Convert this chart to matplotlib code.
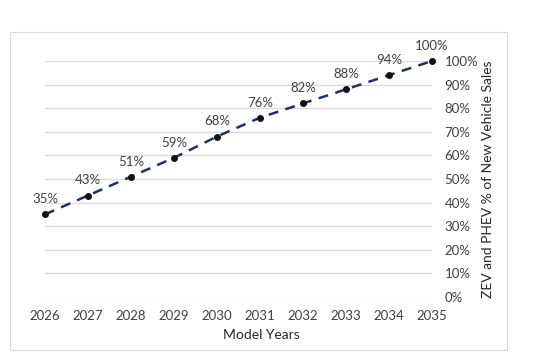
import matplotlib
matplotlib.use("Agg")
import matplotlib.pyplot as plt
from matplotlib.patches import Rectangle
from matplotlib.ticker import PercentFormatter

years = [2026, 2027, 2028, 2029, 2030, 2031, 2032, 2033, 2034, 2035]
shares = [35, 43, 51, 59, 68, 76, 82, 88, 94, 100]
yticks = [0, 10, 20, 30, 40, 50, 60, 70, 80, 90, 100]

plt.rcParams['font.family'] = ['Lato', 'DejaVu Sans']

fig = plt.figure(figsize=(5.46, 3.6), dpi=100)
fig.patch.set_facecolor('white')
fig.patches.append(Rectangle((10/546, 1 - 350/360), (507-10)/546, (350-32)/360,
                             transform=fig.transFigure, fill=False,
                             edgecolor='#d9d9d9', linewidth=0.8))

ax = fig.add_axes([45/546, 1 - 297/360, (432-45)/546, (297-61)/360])
ax.set_xlim(2026, 2035)
ax.set_ylim(0, 100)
ax.plot(years, shares, linestyle=(0, (4, 3)), color='#17336b', linewidth=1.8,
        marker='o', markersize=4, markerfacecolor='#111111',
        markeredgecolor='#111111', clip_on=False, zorder=3)
for x, v in zip(years, shares):
    ax.annotate(f"{v}%", (x, v), xytext=(0, 6.5), textcoords='offset points',
                ha='center', va='bottom', fontsize=9.5, color='#404040')

ax.yaxis.tick_right()
ax.set_yticks(yticks)
ax.yaxis.set_major_formatter(PercentFormatter(decimals=0))
ax.set_xticks(years)
ax.tick_params(axis='both', length=0, labelsize=9.5, labelcolor='#404040')
ax.tick_params(axis='y', pad=9)
ax.tick_params(axis='x', pad=9)
ax.grid(axis='y', color='#d9d9d9', linewidth=0.9)
ax.set_axisbelow(True)
for s in ax.spines.values():
    s.set_visible(False)
ax.set_xlabel('Model Years', fontsize=10, color='#262626')
ax.xaxis.set_label_coords((261-45)/387, -(335-297)/236)
ax.xaxis.label.set_va('center')
ax.set_ylabel('ZEV and PHEV % of New Vehicle Sales', fontsize=10, color='#262626',
              rotation=90)
ax.yaxis.set_label_coords((488-45)/387, 0.5)
ax.yaxis.label.set_va('center')
ax.yaxis.label.set_ha('center')

fig.savefig('out.png', dpi=100)
